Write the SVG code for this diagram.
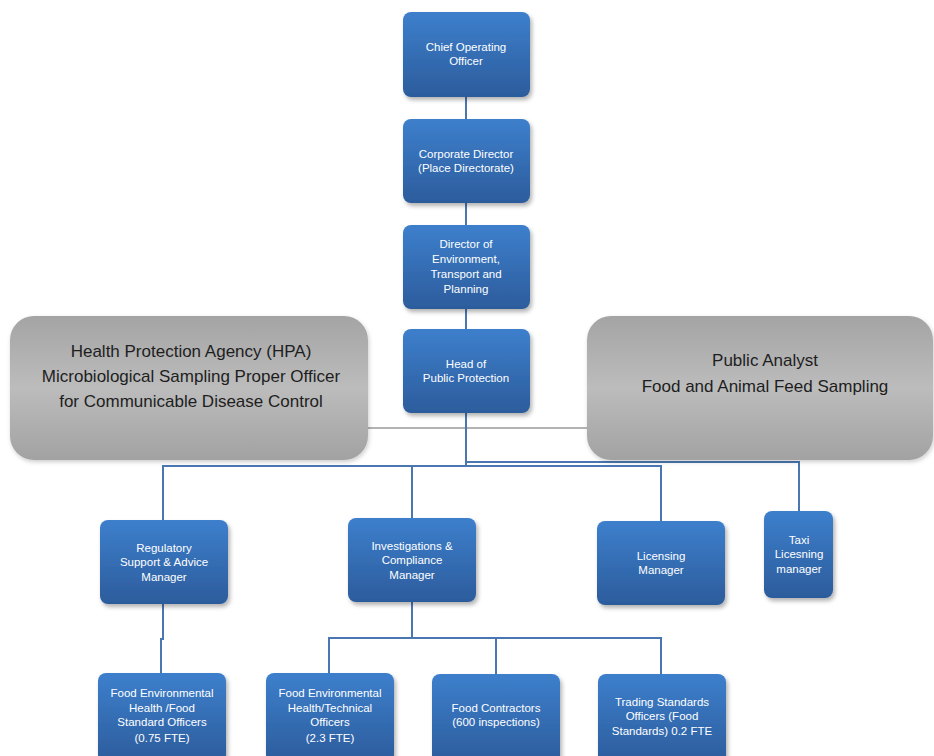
<svg xmlns="http://www.w3.org/2000/svg" width="934" height="756" viewBox="0 0 934 756">
<defs>
<linearGradient id="blue" x1="0" y1="0" x2="0" y2="1">
<stop offset="0" stop-color="#3d7fcc"/>
<stop offset="1" stop-color="#2c5c9c"/>
</linearGradient>
<linearGradient id="gray" x1="0" y1="0" x2="0" y2="1">
<stop offset="0" stop-color="#a4a4a4"/>
<stop offset="0.5" stop-color="#bcbcbc"/>
<stop offset="1" stop-color="#a2a2a2"/>
</linearGradient>
<filter id="sh" x="-10%" y="-10%" width="130%" height="130%">
<feDropShadow dx="2" dy="3" stdDeviation="2" flood-color="#000" flood-opacity="0.3"/>
</filter>
<filter id="shg" x="-10%" y="-10%" width="130%" height="130%">
<feDropShadow dx="1" dy="2" stdDeviation="2" flood-color="#000" flood-opacity="0.2"/>
</filter>
</defs>
<style>
.b{fill:url(#blue);filter:url(#sh)}
.g{fill:url(#gray);filter:url(#shg)}
.t{font-family:"Liberation Sans",Arial,sans-serif;font-size:11.5px;fill:#fff;text-anchor:middle}
.gt{font-family:"Liberation Sans",Arial,sans-serif;font-size:17px;fill:#1e1e1e;text-anchor:middle}
.c{fill:none;stroke:#4a77b2;stroke-width:2}
.cg{fill:none;stroke:#b3b3b3;stroke-width:2}
</style>
<rect width="934" height="756" fill="#fff"/>
<g id="connectors">
<line class="c" x1="466" y1="97" x2="466" y2="119"/>
<line class="c" x1="466" y1="203" x2="466" y2="225"/>
<line class="c" x1="466" y1="309" x2="466" y2="329"/>
<line class="cg" x1="368" y1="428" x2="588" y2="428"/>
<polyline class="c" points="466,413 466,466 163,466 163,520"/>
<line class="c" x1="412" y1="466" x2="412" y2="518"/>
<polyline class="c" points="466,466 661,466 661,521"/>
<polyline class="c" points="466,462 799,462 799,511"/>
<polyline class="c" points="163,604 163,639 161,639 161,673"/>
<line class="c" x1="412" y1="602" x2="412" y2="638"/>
<polyline class="c" points="329,673 329,638 661,638 661,674"/>
<line class="c" x1="496" y1="638" x2="496" y2="674"/>
</g>
<g id="coo"><rect class="b" x="403" y="12" width="127" height="85" rx="8"/>
<text class="t" x="466" y="51">Chief Operating</text><text class="t" x="466" y="65">Officer</text></g>
<g id="corporate-director"><rect class="b" x="403" y="119" width="127" height="84" rx="8"/>
<text class="t" x="466" y="158">Corporate Director</text><text class="t" x="466" y="172">(Place Directorate)</text></g>
<g id="director-env"><rect class="b" x="403" y="225" width="127" height="84" rx="8"/>
<text class="t" x="466" y="248">Director of</text><text class="t" x="466" y="263">Environment,</text><text class="t" x="466" y="278">Transport and</text><text class="t" x="466" y="293">Planning</text></g>
<g id="hpa"><rect class="g" x="10" y="316" width="358" height="144" rx="24"/>
<text class="gt" x="191" y="357">Health Protection Agency (HPA)</text>
<text class="gt" x="191" y="382">Microbiological Sampling Proper Officer</text>
<text class="gt" x="191" y="407">for Communicable Disease Control</text></g>
<g id="public-analyst"><rect class="g" x="587" y="316" width="346" height="144" rx="24"/>
<text class="gt" x="765" y="366">Public Analyst</text>
<text class="gt" x="765" y="392">Food and Animal Feed Sampling</text></g>
<g id="head"><rect class="b" x="403" y="329" width="127" height="84" rx="8"/>
<text class="t" x="466" y="368">Head of</text><text class="t" x="466" y="382">Public Protection</text></g>
<g id="regulatory"><rect class="b" x="100" y="520" width="128" height="84" rx="8"/>
<text class="t" x="164" y="552">Regulatory</text><text class="t" x="164" y="566">Support &amp; Advice</text><text class="t" x="164" y="581">Manager</text></g>
<g id="investigations"><rect class="b" x="348" y="518" width="128" height="84" rx="8"/>
<text class="t" x="412" y="550">Investigations &amp;</text><text class="t" x="412" y="564">Compliance</text><text class="t" x="412" y="579">Manager</text></g>
<g id="licensing"><rect class="b" x="597" y="521" width="128" height="84" rx="8"/>
<text class="t" x="661" y="560">Licensing</text><text class="t" x="661" y="574">Manager</text></g>
<g id="taxi"><rect class="b" x="764" y="511" width="69" height="87" rx="8"/>
<text class="t" x="799" y="544">Taxi</text><text class="t" x="799" y="558">Licesning</text><text class="t" x="799" y="573">manager</text></g>
<g id="food-eh-fso"><rect class="b" x="98" y="673" width="128" height="90" rx="8"/>
<text class="t" x="162" y="697">Food Environmental</text><text class="t" x="162" y="712">Health /Food</text><text class="t" x="162" y="726">Standard Officers</text><text class="t" x="162" y="742">(0.75 FTE)</text></g>
<g id="food-eh-tech"><rect class="b" x="266" y="673" width="128" height="90" rx="8"/>
<text class="t" x="330" y="697">Food Environmental</text><text class="t" x="330" y="712">Health/Technical</text><text class="t" x="330" y="726">Officers</text><text class="t" x="330" y="742">(2.3 FTE)</text></g>
<g id="food-contractors"><rect class="b" x="432" y="674" width="128" height="90" rx="8"/>
<text class="t" x="496" y="712">Food Contractors</text><text class="t" x="496" y="726">(600 inspections)</text></g>
<g id="trading-standards"><rect class="b" x="598" y="674" width="128" height="90" rx="8"/>
<text class="t" x="662" y="706">Trading Standards</text><text class="t" x="662" y="720">Officers (Food</text><text class="t" x="662" y="735">Standards) 0.2 FTE</text></g>
</svg>
